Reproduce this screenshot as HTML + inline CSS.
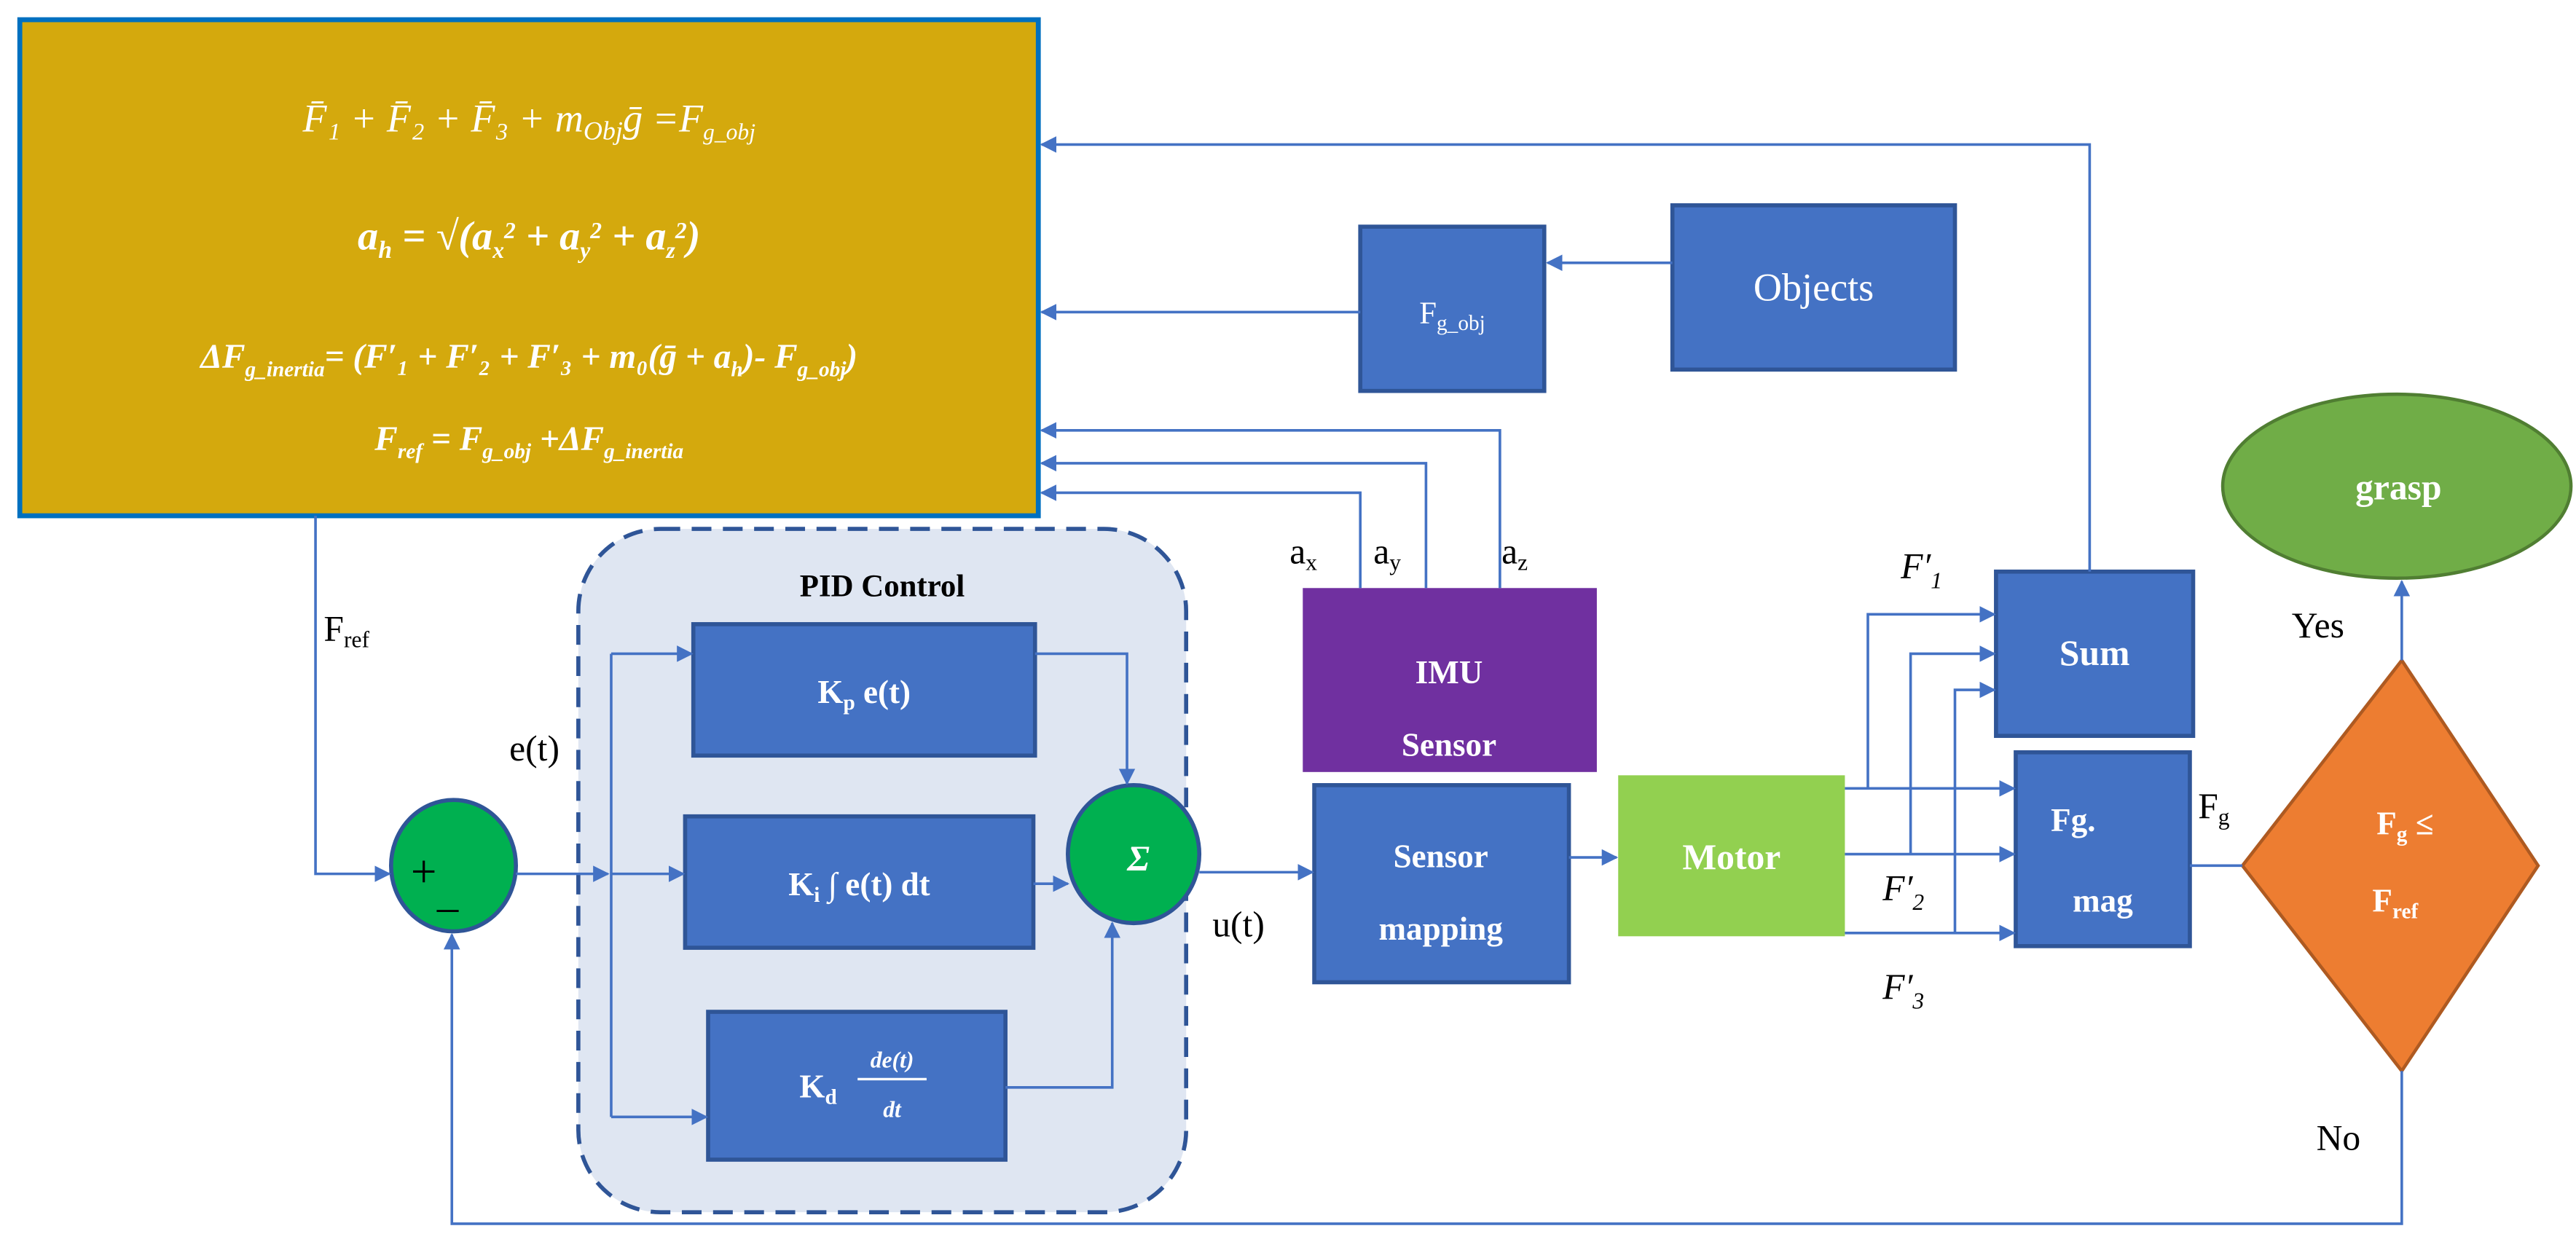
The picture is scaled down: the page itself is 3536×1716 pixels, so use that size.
<!DOCTYPE html>
<html><head><meta charset="utf-8"><style>html,body{margin:0;padding:0;background:#fff}svg{display:block}</style></head>
<body>
<svg width="3536" height="1716" viewBox="0 0 1568 761" xmlns="http://www.w3.org/2000/svg" font-family="Liberation Serif, serif">
<defs>
<marker id="a" markerWidth="10" markerHeight="10" refX="9" refY="5" orient="auto" markerUnits="userSpaceOnUse"><path d="M0,0 L10,5 L0,10 z" fill="#4472C4"/></marker>
</defs>
<rect x="12" y="12" width="620" height="302" fill="#D4A90D" stroke="#0070C0" stroke-width="3"/>
<g fill="#fff" font-style="italic" text-anchor="middle">
<text x="322" y="80" font-size="24">F̄₁ + F̄₂ + F̄₃ + m<tspan font-size="16" dy="5">Obj</tspan><tspan dy="-5">ḡ =F</tspan><tspan font-size="14" dy="5">g_obj</tspan></text>
<text x="322" y="152" font-size="25" font-weight="bold">a<tspan font-size="15" dy="5">h</tspan><tspan dy="-5"> = √(a</tspan><tspan font-size="14" dy="5">x</tspan><tspan font-size="14" dy="-12">2</tspan><tspan dy="7"> + a</tspan><tspan font-size="14" dy="5">y</tspan><tspan font-size="14" dy="-12">2</tspan><tspan dy="7"> + a</tspan><tspan font-size="14" dy="5">z</tspan><tspan font-size="14" dy="-12">2</tspan><tspan dy="7">)</tspan></text>
<text x="322" y="224" font-size="21" font-weight="bold">ΔF<tspan font-size="13" dy="5">g_inertia</tspan><tspan dy="-5">= (F′₁ + F′₂ + F′₃ + m₀(ḡ + a</tspan><tspan font-size="13" dy="5">h</tspan><tspan dy="-5">)- F</tspan><tspan font-size="13" dy="5">g_obj</tspan><tspan dy="-5">)</tspan></text>
<text x="322" y="274" font-size="21" font-weight="bold">F<tspan font-size="13" dy="5">ref</tspan><tspan dy="-5"> = F</tspan><tspan font-size="13" dy="5">g_obj</tspan><tspan dy="-5"> +ΔF</tspan><tspan font-size="13" dy="5">g_inertia</tspan></text>
</g>
<rect x="352" y="322" width="370" height="416" rx="50" fill="#DFE6F2" stroke="#2F5597" stroke-width="2.5" stroke-dasharray="12,7"/>
<text x="537" y="363" font-size="19" font-weight="bold" text-anchor="middle">PID Control</text>
<g stroke="#2F5597" stroke-width="2.5" fill="#4472C4">
<rect x="422" y="380" width="208" height="80"/>
<rect x="417" y="497" width="212" height="80"/>
<rect x="431" y="616" width="181" height="90"/>
<rect x="828" y="138" width="112" height="100"/>
<rect x="1018" y="125" width="172" height="100"/>
<rect x="800" y="478" width="155" height="120"/>
<rect x="1215" y="348" width="120" height="100"/>
<rect x="1227" y="458" width="106" height="118"/>
</g>
<rect x="793" y="358" width="179" height="112" fill="#7030A0"/>
<rect x="985" y="472" width="138" height="98" fill="#92D050"/>
<ellipse cx="276" cy="527" rx="38" ry="40" fill="#00B050" stroke="#2F5597" stroke-width="2.5"/>
<ellipse cx="690" cy="520" rx="40" ry="42" fill="#00B050" stroke="#2F5597" stroke-width="2.5"/>
<ellipse cx="1459" cy="296" rx="106" ry="56" fill="#70AD47" stroke="#507E32" stroke-width="2"/>
<polygon points="1462,402 1545,527 1462,652 1365,527" fill="#ED7D31" stroke="#AE5A21" stroke-width="2"/>
<g fill="#fff" font-weight="bold" text-anchor="middle" font-size="20">
<text x="526" y="428">K<tspan font-size="13" dy="4">p</tspan><tspan dy="-4"> e(t)</tspan></text>
<text x="523" y="545">K<tspan font-size="13" dy="4">i</tspan><tspan dy="-4">  ∫ e(t) dt</tspan></text>
<text x="498" y="668">K<tspan font-size="13" dy="4">d</tspan></text>
<text x="543" y="650" font-size="14" font-style="italic">de(t)</text>
<line x1="522" y1="657" x2="564" y2="657" stroke="#fff" stroke-width="1.5"/>
<text x="543" y="680" font-size="14" font-style="italic">dt</text>
<text x="693" y="530" font-size="22" font-style="italic">Σ</text>
<text x="884" y="197" font-weight="normal" font-size="19">F<tspan font-size="13" dy="4">g_obj</tspan></text>
<text x="1104" y="183" font-weight="normal" font-size="24">Objects</text>
<text x="882" y="416" font-size="20">IMU</text>
<text x="882" y="460" font-size="20">Sensor</text>
<text x="877" y="528" font-size="20">Sensor</text>
<text x="877" y="572" font-size="20">mapping</text>
<text x="1054" y="529" font-size="22">Motor</text>
<text x="1275" y="405" font-size="22">Sum</text>
<text x="1262" y="506" font-size="20">Fg.</text>
<text x="1280" y="555" font-size="20">mag</text>
<text x="1460" y="304" font-size="22">grasp</text>
<text x="1464" y="508" font-size="20">F<tspan font-size="13" dy="4">g</tspan><tspan dy="-4"> ≤</tspan></text>
<text x="1458" y="555" font-size="20">F<tspan font-size="13" dy="4">ref</tspan></text>
</g>
<text x="250" y="540" font-size="28">+</text>
<text x="266" y="552" font-size="26">_</text>
<g font-size="22" fill="#000">
<text x="197" y="390">F<tspan font-size="14" dy="4">ref</tspan></text>
<text x="310" y="463">e(t)</text>
<text x="738" y="570">u(t)</text>
<text x="785" y="343">a<tspan font-size="14" dy="4">x</tspan></text>
<text x="836" y="343">a<tspan font-size="14" dy="4">y</tspan></text>
<text x="914" y="343">a<tspan font-size="14" dy="4">z</tspan></text>
<text x="1157" y="352" font-style="italic">F′<tspan font-size="14" dy="6">1</tspan></text>
<text x="1146" y="548" font-style="italic">F′<tspan font-size="14" dy="6">2</tspan></text>
<text x="1146" y="608" font-style="italic">F′<tspan font-size="14" dy="6">3</tspan></text>
<text x="1338" y="498">F<tspan font-size="14" dy="4">g</tspan></text>
<text x="1395" y="388">Yes</text>
<text x="1410" y="700">No</text>
</g>
<g stroke="#4472C4" stroke-width="1.6" fill="none">
<polyline points="1272,348 1272,88 634,88" marker-end="url(#a)"/>
<polyline points="828,190 634,190" marker-end="url(#a)"/>
<polyline points="1018,160 942,160" marker-end="url(#a)"/>
<polyline points="913,358 913,262 634,262" marker-end="url(#a)"/>
<polyline points="868,358 868,282 634,282" marker-end="url(#a)"/>
<polyline points="828,358 828,300 634,300" marker-end="url(#a)"/>
<polyline points="192,314 192,532 237,532" marker-end="url(#a)"/>
<polyline points="314,532 370,532" marker-end="url(#a)"/>
<line x1="372" y1="398" x2="372" y2="680"/>
<polyline points="372,398 421,398" marker-end="url(#a)"/>
<polyline points="372,532 416,532" marker-end="url(#a)"/>
<polyline points="372,680 430,680" marker-end="url(#a)"/>
<polyline points="630,398 686,398 686,477" marker-end="url(#a)"/>
<polyline points="629,538 650,538" marker-end="url(#a)"/>
<polyline points="612,662 677,662 677,562" marker-end="url(#a)"/>
<polyline points="730,531 799,531" marker-end="url(#a)"/>
<polyline points="955,522 984,522" marker-end="url(#a)"/>
<polyline points="1123,480 1226,480" marker-end="url(#a)"/>
<polyline points="1123,520 1226,520" marker-end="url(#a)"/>
<polyline points="1123,568 1226,568" marker-end="url(#a)"/>
<polyline points="1137,480 1137,374 1214,374" marker-end="url(#a)"/>
<polyline points="1163,520 1163,398 1214,398" marker-end="url(#a)"/>
<polyline points="1190,568 1190,420 1214,420" marker-end="url(#a)"/>
<line x1="1333" y1="527" x2="1365" y2="527"/>
<polyline points="1462,402 1462,354" marker-end="url(#a)"/>
<polyline points="1462,652 1462,745 275,745 275,569" marker-end="url(#a)"/>
</g>
</svg>
</body></html>
